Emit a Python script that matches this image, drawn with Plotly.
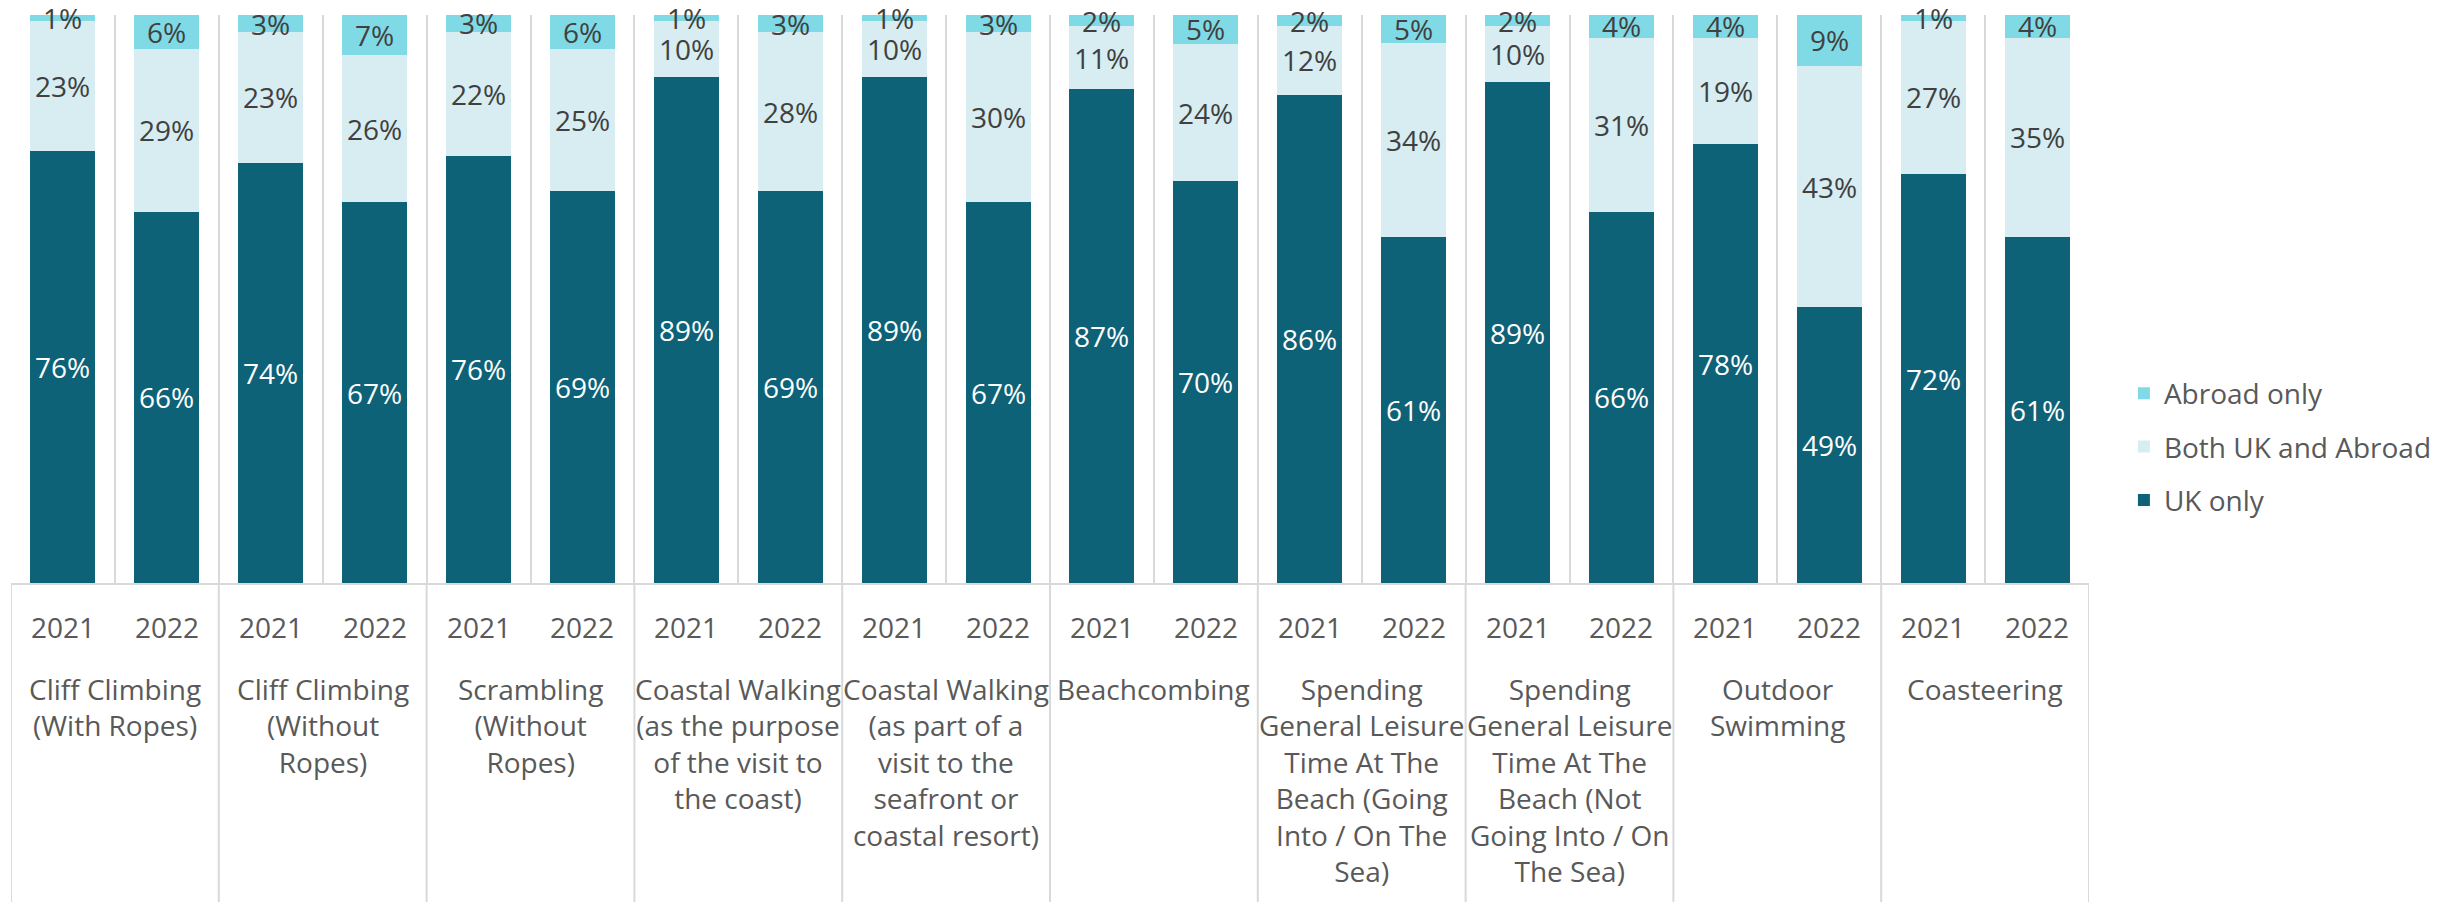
import plotly.graph_objects as go

# ---------------- data ----------------
categories = [
    "Cliff Climbing<br>(With Ropes)",
    "Cliff Climbing<br>(Without<br>Ropes)",
    "Scrambling<br>(Without<br>Ropes)",
    "Coastal Walking<br>(as the purpose<br>of the visit to<br>the coast)",
    "Coastal Walking<br>(as part of a<br>visit to the<br>seafront or<br>coastal resort)",
    "Beachcombing",
    "Spending<br>General Leisure<br>Time At The<br>Beach (Going<br>Into / On The<br>Sea)",
    "Spending<br>General Leisure<br>Time At The<br>Beach (Not<br>Going Into / On<br>The Sea)",
    "Outdoor<br>Swimming",
    "Coasteering",
]
years = ["2021", "2022"]

# values per bar, ordered category by category, year by year
uk_only = [76, 66, 74, 67, 76, 69, 89, 69, 89, 67, 87, 70, 86, 61, 89, 66, 78, 49, 72, 61]
both_uk_abroad = [23, 29, 23, 26, 22, 25, 10, 28, 10, 30, 11, 24, 12, 34, 10, 31, 19, 43, 27, 35]
abroad_only = [1, 6, 3, 7, 3, 6, 1, 3, 1, 3, 2, 5, 2, 5, 2, 4, 4, 9, 1, 4]

series_names = ["UK only", "Both UK and Abroad", "Abroad only"]
series_values = [uk_only, both_uk_abroad, abroad_only]
series_colors = ["#0E6278", "#D7EDF2", "#80DAE5"]
label_colors = ["#FFFFFF", "#404040", "#404040"]

# ---------------- layout constants ----------------
W, H = 2448, 902
ML, MR, MT, MB = 11, 350, 15, 319
plot_h = H - MT - MB
FONT = "Open Sans"
FS = 28
GRID = "#D9D9D9"
AXIS_TEXT = "#595959"

n_years = len(years)
n_bars = len(categories) * n_years
x_pos = list(range(n_bars))
n_series = len(series_names)

def py(pixel_y):
    """convert a pixel y (from top of figure) to paper coordinates"""
    return 1 - (pixel_y - MT) / plot_h

fig = go.Figure()
for k, (name, vals, col) in enumerate(zip(series_names, series_values, series_colors)):
    fig.add_trace(go.Bar(
        x=x_pos,
        y=vals,
        name=name,
        legendgroup=f"g{k}",
        legendrank=n_series - k,
        marker=dict(color=col, line=dict(width=0)),
        hoverinfo="skip",
    ))

annotations = []
# data labels (centred in each normalised segment)
totals = [sum(s[i] for s in series_values) for i in range(n_bars)]
for k, (vals, tcol) in enumerate(zip(series_values, label_colors)):
    for i in range(n_bars):
        base = sum(series_values[j][i] for j in range(k))
        mid = (base + vals[i] / 2) / totals[i] * 100
        annotations.append(dict(
            x=x_pos[i], y=mid, xref="x", yref="y",
            text=f"{vals[i]}%", showarrow=False,
            xanchor="center", yanchor="middle",
            font=dict(family=FONT, size=FS, color=tcol),
        ))
# year labels
for i in range(n_bars):
    annotations.append(dict(
        x=x_pos[i], y=py(627), xref="x", yref="paper",
        text=years[i % n_years], showarrow=False,
        xanchor="center", yanchor="middle",
        font=dict(family=FONT, size=FS, color=AXIS_TEXT),
    ))
# category labels
for c, cat in enumerate(categories):
    centre = (x_pos[c * n_years] + x_pos[c * n_years + n_years - 1]) / 2
    annotations.append(dict(
        x=centre, y=py(668), xref="x", yref="paper",
        text=cat, showarrow=False, align="center",
        xanchor="center", yanchor="top",
        font=dict(family=FONT, size=FS, color=AXIS_TEXT),
    ))

# group dividers below the axis
shapes = []
for g in range(len(categories) + 1):
    xv = g * n_years - 0.5
    shapes.append(dict(
        type="line", xref="x", yref="paper",
        x0=xv, x1=xv, y0=0, y1=py(H + 5),
        line=dict(color=GRID, width=2), layer="below",
    ))

fig.update_layout(
    width=W, height=H,
    margin=dict(l=ML, r=MR, t=MT, b=MB, pad=0),
    barmode="stack",
    barnorm="percent",
    bargap=0.375,
    plot_bgcolor="white",
    paper_bgcolor="white",
    font=dict(family=FONT, size=FS, color=AXIS_TEXT),
    xaxis=dict(
        range=[-0.5, n_bars - 0.5],
        tickvals=[k - 0.5 for k in range(n_bars + 1)],
        showticklabels=False,
        ticks="",
        showgrid=True, gridcolor=GRID, gridwidth=2,
        showline=True, linecolor=GRID, linewidth=2,
        zeroline=False, fixedrange=True,
    ),
    yaxis=dict(range=[0, 100], visible=False, showgrid=False, fixedrange=True),
    legend=dict(
        x=1.0168, xanchor="left",
        y=py(447), yanchor="middle",
        traceorder="grouped",
        tracegroupgap=14,
        font=dict(family=FONT, size=FS, color=AXIS_TEXT),
        bgcolor="rgba(0,0,0,0)",
    ),
    annotations=annotations,
    shapes=shapes,
    showlegend=True,
)

fig.write_html(
    "out.html",
    config={"displayModeBar": False},
    post_script="document.body.style.margin='0';document.body.style.overflow='hidden';",
)
